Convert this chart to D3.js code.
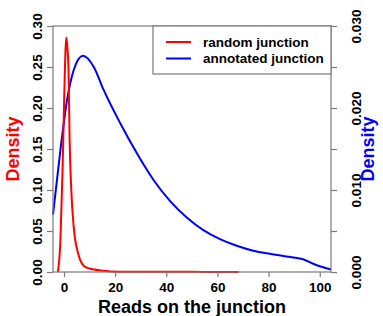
<!DOCTYPE html>
<html>
<head>
<meta charset="utf-8">
<script src="https://d3js.org/d3.v7.min.js"></script>
<style>
  body { margin: 0; background: #fff; }
  text { font-family: "Liberation Sans", Arial, sans-serif; font-weight: bold; }
</style>
</head>
<body>
<svg width="383" height="316"></svg>
<script>
// random junction density (left axis)
var randomX = [-2.35, -1.4, -0.6, 0, 0.65, 0.95, 1.3, 1.8, 2.2, 2.85, 3.8, 5.5, 8.1, 11.3, 15.2, 21.7, 30, 40, 50, 60, 68.3];
var randomY = [0.0, 0.039, 0.12, 0.2016, 0.2748, 0.286, 0.275, 0.242, 0.161, 0.10, 0.055, 0.0228, 0.0065, 0.0033, 0.0016, 0.0004, 0.0003, 0.0002, 0.0002, 0.0001, 0.0001];

// annotated junction density (right axis)
var annotX = [-4.3, -1.4, 1.2, 3.8, 7.4, 11.6, 15.5, 22, 28.5, 35, 41.5, 48, 54.5, 61, 67.5, 74, 80.5, 86.9, 93.5, 98.6, 104.4];
var annotY = [0.0070, 0.01488, 0.02098, 0.02463, 0.02638, 0.02504, 0.0222, 0.01813, 0.01447, 0.01122, 0.00865, 0.00665, 0.0051, 0.0040, 0.0032, 0.0026, 0.00222, 0.0019, 0.00155, 0.00085, 0.0003];

var xTicks = [0, 20, 40, 60, 80, 100];
var leftTicks = [0, 0.05, 0.10, 0.15, 0.20, 0.25, 0.30];
var rightTicks = [0, 0.005, 0.010, 0.015, 0.020, 0.025, 0.030];
var rightLabels = [0, 0.010, 0.020, 0.030];
var legendNames = ["random junction", "annotated junction"];
var legendColors = ["#ff0000", "#0000ff"];

var svg = d3.select("svg");
var pL = 53, pR = 331, pT = 26, pB = 272;

var x = d3.scaleLinear().domain([-4.3, 104.4]).range([pL, pR]);
var yL = d3.scaleLinear().domain([0, 0.30]).range([pB, pT]);
var yR = d3.scaleLinear().domain([0, 0.030]).range([pB, pT]);

var axisColor = "#7a7a7a";

// curves
var randomData = randomX.map(function(d, i) { return [d, randomY[i]]; });
var annotData = annotX.map(function(d, i) { return [d, annotY[i]]; });

svg.append("path")
  .datum(annotData)
  .attr("fill", "none")
  .attr("stroke", "#0000ff")
  .attr("stroke-width", 2)
  .attr("d", d3.line().x(function(d) { return x(d[0]); }).y(function(d) { return yR(d[1]); }).curve(d3.curveMonotoneX));

svg.append("path")
  .datum(randomData)
  .attr("fill", "none")
  .attr("stroke", "#ff0000")
  .attr("stroke-width", 2)
  .attr("d", d3.line().x(function(d) { return x(d[0]); }).y(function(d) { return yL(d[1]); }).curve(d3.curveMonotoneX));

// box
svg.append("rect")
  .attr("x", pL).attr("y", pT)
  .attr("width", pR - pL).attr("height", pB - pT)
  .attr("fill", "none").attr("stroke", axisColor).attr("stroke-width", 1.2);

// axes
var gx = svg.append("g").attr("transform", "translate(0," + pB + ")")
  .call(d3.axisBottom(x).tickValues(xTicks).tickSize(5).tickSizeOuter(0));
gx.selectAll("text").attr("y", 20).attr("dy", 0);

var gl = svg.append("g").attr("transform", "translate(" + pL + ",0)")
  .call(d3.axisLeft(yL).tickValues(leftTicks).tickSize(6).tickSizeOuter(0).tickFormat(d3.format(".2f")));
gl.selectAll("text")
  .attr("transform", "rotate(-90)")
  .attr("x", 0).attr("y", -11).attr("dy", 0)
  .style("text-anchor", "middle");

var gr = svg.append("g").attr("transform", "translate(" + pR + ",0)")
  .call(d3.axisRight(yR).tickValues(rightTicks).tickSize(6).tickSizeOuter(0)
    .tickFormat(function(d) { return rightLabels.some(function(v) { return Math.abs(v - d) < 1e-9; }) ? d3.format(".3f")(d) : ""; }));
gr.selectAll("text")
  .attr("transform", "rotate(-90)")
  .attr("x", 0).attr("y", 29.5).attr("dy", 0)
  .style("text-anchor", "middle");

[gx, gl, gr].forEach(function(g) {
  g.select(".domain").remove();
  g.selectAll("line").attr("stroke", axisColor).attr("stroke-width", 1.2);
  g.selectAll("text").attr("fill", "#000").style("font-size", "13.5px")
    .style("font-family", "'Liberation Sans', Arial, sans-serif").style("font-weight", "bold");
});

// axis titles
svg.append("text")
  .attr("x", (pL + pR) / 2).attr("y", 313)
  .attr("text-anchor", "middle")
  .style("font-size", "18px")
  .text("Reads on the junction");

svg.append("text")
  .attr("transform", "translate(19," + (pT + pB) / 2 + ") rotate(-90)")
  .attr("text-anchor", "middle")
  .attr("fill", "#ff0000")
  .style("font-size", "18px")
  .text("Density");

svg.append("text")
  .attr("transform", "translate(374," + (pT + pB) / 2 + ") rotate(-90)")
  .attr("text-anchor", "middle")
  .attr("fill", "#0000ff")
  .style("font-size", "18px")
  .text("Density");

// legend
svg.append("rect")
  .attr("x", 153).attr("y", pT)
  .attr("width", pR - 153).attr("height", 48)
  .attr("fill", "#fff").attr("stroke", axisColor).attr("stroke-width", 1.2);

var leg = svg.selectAll(".leg").data(legendNames).enter().append("g")
  .attr("transform", function(d, i) { return "translate(0," + (42 + i * 16.5) + ")"; });
leg.append("line")
  .attr("x1", 166).attr("x2", 191).attr("y1", 0).attr("y2", 0)
  .attr("stroke", function(d, i) { return legendColors[i]; })
  .attr("stroke-width", 2);
leg.append("text")
  .attr("x", 203).attr("y", 4.8)
  .style("font-size", "13.5px")
  .text(function(d) { return d; });
</script>
</body>
</html>
